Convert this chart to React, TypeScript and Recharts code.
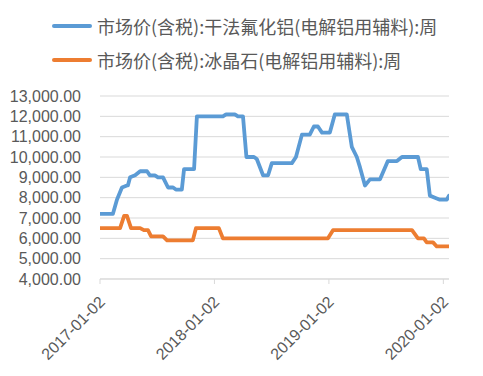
import React from 'react';
import { LineChart, Line, XAxis, YAxis, CartesianGrid } from 'recharts';

const blueDates = [
  '2017-01-02', '2017-02-12', '2017-02-25', '2017-03-13', '2017-03-29', '2017-04-01', '2017-04-08',
  '2017-04-24', '2017-05-10', '2017-06-01', '2017-06-10', '2017-06-26', '2017-07-06', '2017-07-22',
  '2017-08-07', '2017-08-23', '2017-09-01', '2017-09-20', '2017-09-27', '2017-10-29', '2017-11-07',
  '2018-01-29', '2018-02-08', '2018-03-08', '2018-03-18', '2018-04-03', '2018-04-14', '2018-05-08',
  '2018-05-17', '2018-06-06', '2018-06-22', '2018-07-04', '2018-09-06', '2018-09-19', '2018-10-08',
  '2018-11-02', '2018-11-15', '2018-11-28', '2018-12-11', '2019-01-05', '2019-01-21', '2019-02-28',
  '2019-03-16', '2019-04-01', '2019-04-11', '2019-04-27', '2019-05-13', '2019-06-14', '2019-07-09',
  '2019-08-07', '2019-08-23', '2019-10-13', '2019-10-22', '2019-11-10', '2019-11-20', '2019-12-06',
  '2019-12-22', '2020-01-13', '2020-01-20',
];
const blueValues = [
  7200, 7200, 7900, 8500, 8600, 8600, 9000,
  9100, 9300, 9300, 9100, 9100, 9000, 9000,
  8500, 8500, 8400, 8400, 9400, 9400, 12000,
  12000, 12100, 12100, 12000, 12000, 10000, 10000,
  9900, 9100, 9100, 9700, 9700, 10000, 11100,
  11100, 11500, 11500, 11200, 11200, 12100, 12100,
  10500, 10000, 9500, 8600, 8900, 8900, 9800,
  9800, 10000, 10000, 9400, 9400, 8100, 8000,
  7900, 7900, 8100,
];

const orangeDates = [
  '2017-01-02', '2017-03-07', '2017-03-20', '2017-03-29', '2017-04-11', '2017-05-10', '2017-05-22',
  '2017-06-04', '2017-06-14', '2017-07-22', '2017-08-04', '2017-10-25', '2017-11-04', '2018-01-16',
  '2018-01-29', '2018-12-30', '2019-01-15', '2019-09-24', '2019-10-13', '2019-11-01', '2019-11-10',
  '2019-11-30', '2019-12-12', '2020-01-20',
];
const orangeValues = [
  6500, 6500, 7100, 7100, 6500, 6500, 6400,
  6400, 6100, 6100, 5900, 5900, 6500, 6500,
  6000, 6000, 6400, 6400, 6000, 6000, 5800,
  5800, 5600, 5600,
];

const xTickLabels = ['2017-01-02', '2018-01-02', '2019-01-02', '2020-01-02'];
const yTicks = [4000, 5000, 6000, 7000, 8000, 9000, 10000, 11000, 12000, 13000];

const seriesNames = ['市场价(含税):干法氟化铝(电解铝用辅料):周', '市场价(含税):冰晶石(电解铝用辅料):周'];
const colors = ['#5b9bd5', '#ed7d31'];

const ts = (s: string) => Date.parse(s + 'T00:00:00Z');
const blueData = blueDates.map((d, i) => ({ t: ts(d), v: blueValues[i] }));
const orangeData = orangeDates.map((d, i) => ({ t: ts(d), v: orangeValues[i] }));
const xTicks = xTickLabels.map(ts);
const fmtDate = (t: number) => new Date(t).toISOString().slice(0, 10);
const fmtNum = (n: number) => n.toLocaleString('en-US', { minimumFractionDigits: 2, maximumFractionDigits: 2 });

const XTick = (props: any) => {
  const { x, y, payload } = props;
  const ax = x + 2;
  const ay = y + 11;
  return (
    <text
      x={ax}
      y={ay}
      transform={`rotate(-45 ${ax} ${ay})`}
      textAnchor="end"
      dy="0.35em"
      fill="#595959"
      fontSize={16}
      fontFamily="Liberation Sans, Arial, sans-serif"
    >
      {fmtDate(payload.value)}
    </text>
  );
};

export default function App() {
  return (
    <div style={{ position: 'absolute', left: 0, top: 0, width: 483, height: 376, background: '#fff' }}>
      {seriesNames.map((name, i) => (
        <div key={name} style={{ position: 'absolute', left: 52, top: i === 0 ? 12 : 46, height: 28, display: 'flex', alignItems: 'center' }}>
          <div style={{ width: 40, height: 4, borderRadius: 2, background: colors[i] }} />
          <span style={{ marginLeft: 5, fontSize: 18, color: '#595959', fontFamily: '"Noto Sans CJK SC", sans-serif', whiteSpace: 'nowrap' }}>{name}</span>
        </div>
      ))}
      <LineChart width={483} height={376} margin={{ top: 96, right: 34, bottom: 37, left: 0 }}>
        <CartesianGrid vertical={false} stroke="#d9d9d9" strokeWidth={1} />
        <XAxis
          dataKey="t"
          type="number"
          domain={[ts('2017-01-02'), ts('2020-01-20')]}
          ticks={xTicks}
          allowDataOverflow
          height={60}
          stroke="#d9d9d9"
          tickSize={5}
          tickMargin={4}
          tick={<XTick />}
          interval={0}
        />
        <YAxis
          type="number"
          domain={[4000, 13000]}
          ticks={yTicks}
          width={100}
          axisLine={false}
          tickLine={false}
          tickSize={0}
          tickMargin={19}
          tickFormatter={fmtNum}
          tick={{ fill: '#595959', fontSize: 16, fontFamily: 'Liberation Sans, Arial, sans-serif' }}
          interval={0}
        />
        <Line data={blueData} dataKey="v" type="linear" stroke={colors[0]} strokeWidth={3.8} dot={false} isAnimationActive={false} strokeLinejoin="round" strokeLinecap="round" />
        <Line data={orangeData} dataKey="v" type="linear" stroke={colors[1]} strokeWidth={3.8} dot={false} isAnimationActive={false} strokeLinejoin="round" strokeLinecap="round" />
      </LineChart>
    </div>
  );
}
